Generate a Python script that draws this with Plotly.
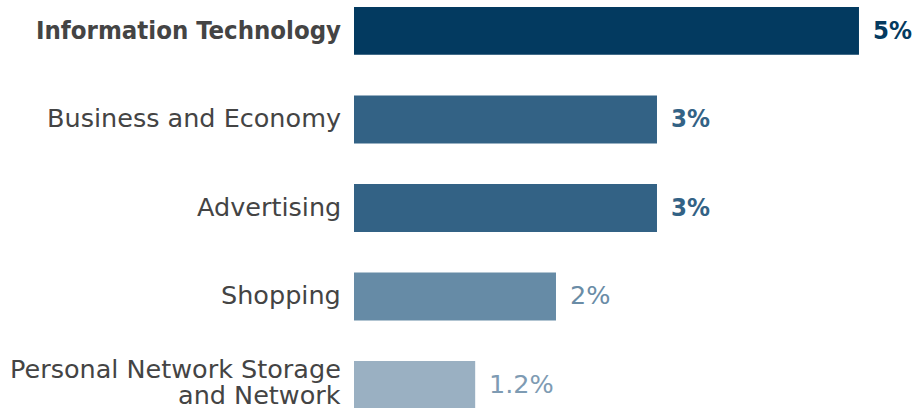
import plotly.graph_objects as go

# Category share data
categories = [
    "Information Technology",
    "Business and Economy",
    "Advertising",
    "Shopping",
    "Personal Network Storage<br>and Network",
]
values = [5, 3, 3, 2, 1.2]
value_labels = ["5%", "3%", "3%", "2%", "1.2%"]
bold_flags = [True, True, True, False, False]
bar_colors = ["#033a60", "#336285", "#336285", "#668ba6", "#9ab0c2"]
text_colors = ["#033a60", "#336285", "#336285", "#6a8ca6", "#7e9bb3"]

FONT = "DejaVu Sans"
BOLD_FONT = "DejaVu Sans Condensed, Open Sans"
SIZE = 25.5
LINE_GAP = 26  # spacing between wrapped label lines, px
positions = list(range(len(categories)))

fig = go.Figure(
    go.Bar(
        x=values,
        y=positions,
        orientation="h",
        marker=dict(color=bar_colors, line=dict(width=0)),
        width=0.54,
        hoverinfo="skip",
    )
)

# Category labels, right-aligned against the bar origin; wrapped labels
# are laid out line by line for tighter leading
for i, (c, p) in enumerate(zip(categories, positions)):
    lines = c.split("<br>")
    n = len(lines)
    for j, line in enumerate(lines):
        bold = i == 0
        fig.add_annotation(
            x=0, xref="paper", y=p, yref="y",
            text=f"<b>{line}</b>" if bold else line,
            xanchor="right", yanchor="middle", align="right", xshift=-11,
            yshift=((n - 1) / 2 - j) * LINE_GAP + (3 if n > 1 else 1),
            showarrow=False,
            font=dict(family=BOLD_FONT if bold else FONT, size=SIZE, color="#444444"),
        )

# Value labels just past each bar end
for v, p, lab, b, col in zip(values, positions, value_labels, bold_flags, text_colors):
    fig.add_annotation(
        x=v, y=p, text=f"<b>{lab}</b>" if b else lab,
        xanchor="left", yanchor="middle", xshift=12, yshift=1, showarrow=False,
        font=dict(family=BOLD_FONT if b else FONT, size=SIZE, color=col),
    )

fig.update_layout(
    width=912, height=408,
    margin=dict(l=354, r=0, t=0, b=0),
    paper_bgcolor="white", plot_bgcolor="white",
    showlegend=False,
    font=dict(family=FONT, size=SIZE, color="#444444"),
    xaxis=dict(range=[0, 5.525], visible=False, fixedrange=True),
    yaxis=dict(range=[4.26, -0.35], visible=False, fixedrange=True),
)

fig.write_html("out.html", config={"displayModeBar": False})
